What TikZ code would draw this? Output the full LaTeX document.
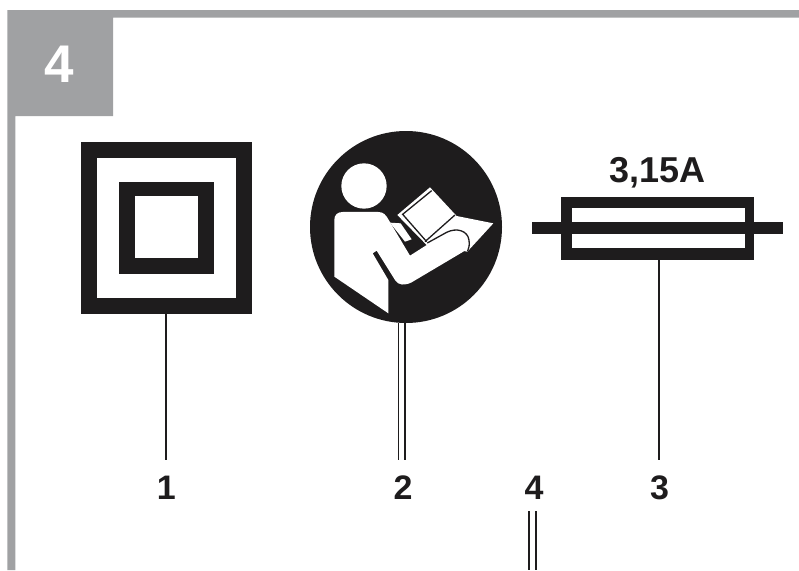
\documentclass[tikz,border=0pt]{standalone}
\usepackage{fontspec}
\setmainfont{Liberation Sans}
\definecolor{framegray}{HTML}{A0A1A3}
\definecolor{ink}{HTML}{1E1C1D}
\tikzset{
  leader/.style={draw=ink,line width=1.9pt},
  numlabel/.style={font=\bfseries\fontsize{34}{34}\selectfont,text=ink,inner sep=0pt,anchor=base},
}
\begin{document}
\begin{tikzpicture}[x=1pt,y=-1pt]
\useasboundingbox (0,0) rectangle (799,570);
% frame and tab
\fill[framegray] (7.3,570) -- (7.3,10) -- (799,10) -- (799,17.7) -- (113,17.7) -- (113,116) -- (15.3,116) -- (15.3,570) -- cycle;
\node[font=\bfseries\fontsize{53}{53}\selectfont,text=white,inner sep=0pt,anchor=base] (tabnum) at (59,82) {4};
% symbol 1
\fill[ink] (81,142) rectangle (252,314);
\fill[white] (97,158) rectangle (236,298);
\fill[ink] (119.3,182) rectangle (213.7,274);
\fill[white] (135,196) rectangle (197.7,258);
\coordinate (s1) at (166.3,314);
\node[numlabel] (n1) at (166.3,499) {1};
\draw[leader] (s1) -- (166.3,460);
% symbol 2
\fill[ink] (406,227) circle (96);
\begin{scope}[shift={(300,120)},x=0.3333pt,y=-0.3333pt]
  \fill[white] (192,198) circle (68);
  % book with wedge
  \fill[white] (292,285) -- (390,202) -- (470,288) -- (580,310) -- (502,395) -- (380,375) -- cycle;
  \draw[ink,line width=1.3pt] (380,365) -- (308,283) -- (395,212);
  \draw[ink,line width=1.3pt] (465,285) -- (375,365);
  % hand
  \fill[white] (270,308) -- (302,310) -- (335,358) -- (315,365) -- cycle;
  % body and arm
  \fill[white] (103,300) .. controls (103,285) and (112,276) .. (128,276) -- (235,276)
    .. controls (250,276) and (258,285) .. (265,298) -- (330,407) -- (385,372) -- (440,340)
    .. controls (470,325) and (500,335) .. (505,360) .. controls (507,380) and (500,390) .. (485,398)
    -- (335,487) .. controls (315,497) and (295,497) .. (285,480) -- (230,392) -- (218,400) -- (265,480) -- (265,580) -- (103,470) -- cycle;
  \draw[ink,line width=1.3pt] (382,369) -- (440,337) .. controls (470,322) and (503,332) .. (507,360) .. controls (509,375) and (507,385) .. (503,393);
\end{scope}
\coordinate (s2l) at (398.5,323);
\coordinate (s2r) at (405.3,323);
\node[numlabel] (n2) at (403,499) {2};
\draw[leader] (s2l) -- (398.5,460);
\draw[leader] (s2r) -- (405.3,460);
% symbol 3
\node[font=\bfseries\fontsize{36}{36}\selectfont,text=ink,inner sep=0pt,anchor=base] (fuse) at (657.6,182) {3,15A};
\fill[ink] (560.7,196.7) rectangle (754,260);
\fill[white] (572.3,208.3) rectangle (745,248.3);
\fill[ink] (532,222) rectangle (782.7,234);
\coordinate (s3) at (659,260);
\node[numlabel] (n3) at (659.5,499) {3};
\draw[leader] (s3) -- (659,460);
% label 4
\node[numlabel] (n4) at (534,499) {4};
\coordinate (e4l) at (529,570);
\coordinate (e4r) at (535.8,570);
\draw[leader] (529,511) -- (e4l);
\draw[leader] (535.8,511) -- (e4r);
\end{tikzpicture}
\end{document}
